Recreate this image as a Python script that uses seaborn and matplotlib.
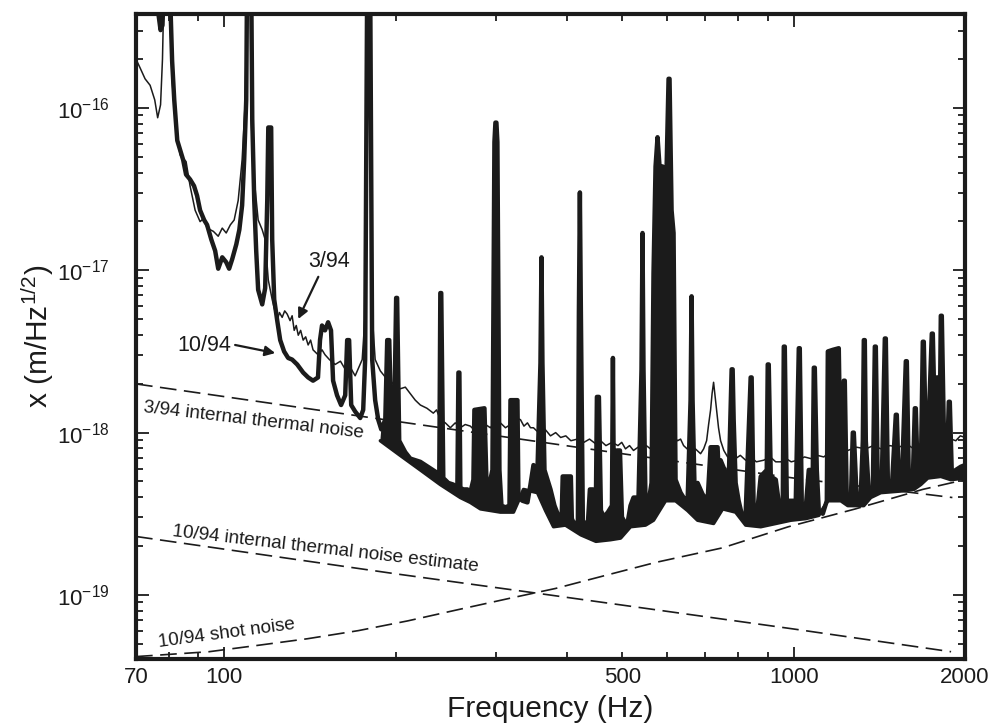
import numpy as np
import pandas as pd
import seaborn as sns
import matplotlib.pyplot as plt
from matplotlib.ticker import FixedLocator, FuncFormatter, NullFormatter

# Values: (frequency in Hz, log10 of x in m/Hz^1/2)
# 3/94 spectrum (thin trace)
spec_0394 = [
    (70.0, -15.70), (71.1, -15.75), (72.6, -15.82), (74.1, -15.86), (75.5, -15.95),
    (76.4, -16.06), (77.3, -15.98), (77.9, -15.70), (78.5, -15.15), (79.8, -15.15),
    (81.0, -15.83), (82.3, -16.14), (83.7, -16.29), (85.7, -16.33), (87.1, -16.48),
    (88.9, -16.63), (90.7, -16.70), (92.0, -16.68), (93.3, -16.74), (95.7, -16.76),
    (97.6, -16.79), (99.2, -16.74), (100.8, -16.77), (102.5, -16.72), (104.1, -16.69),
    (105.8, -16.57), (107.5, -16.32), (108.9, -15.95), (109.7, -15.15), (111.1, -15.15),
    (111.5, -16.07), (112.9, -16.44), (114.7, -16.69), (116.6, -16.75), (118.0, -16.81),
    (119.5, -17.06), (121.4, -17.18), (123.9, -17.31), (125.0, -17.26), (126.4, -17.29),
    (127.7, -17.25), (129.0, -17.27), (130.5, -17.31), (131.6, -17.28), (132.7, -17.37),
    (133.8, -17.34), (134.9, -17.40), (136.2, -17.37), (137.6, -17.43), (139.0, -17.41),
    (140.4, -17.46), (141.8, -17.43), (143.2, -17.49), (146.1, -17.52), (148.5, -17.49),
    (150.3, -17.52), (153.0, -17.55), (156.6, -17.58), (160.0, -17.56), (163.1, -17.61),
    (166.0, -17.59), (169.8, -17.65), (174.7, -17.55), (177.5, -17.18), (178.6, -15.15),
    (180.0, -15.15), (181.2, -17.18), (184.1, -17.55), (188.0, -17.62), (192.0, -17.66),
    (195.6, -17.68), (199.5, -17.71), (203.7, -17.73), (208.0, -17.72), (212.2, -17.76),
    (216.5, -17.80), (221.0, -17.83), (227.0, -17.85), (232.9, -17.88), (236.0, -17.86),
    (239.6, -17.92), (244.5, -17.94), (249.5, -17.97), (254.5, -17.94), (259.8, -17.97),
    (265.0, -17.95), (270.5, -17.96), (276.0, -17.99), (281.8, -17.98), (287.5, -17.95),
    (293.4, -17.97), (299.4, -17.93), (305.5, -17.94), (311.8, -17.97), (318.2, -17.95),
    (324.5, -17.91), (331.3, -17.92), (336.0, -17.96), (340.8, -17.94), (345.0, -17.97),
    (349.2, -17.97), (354.0, -17.99), (359.2, -18.00), (366.0, -17.98), (374.1, -18.02),
    (382.0, -18.00), (389.8, -18.03), (398.0, -18.02), (406.2, -18.05), (417.0, -18.04),
    (428.2, -18.06), (438.0, -18.04), (449.5, -18.07), (458.0, -18.05), (468.1, -18.08),
    (480.0, -18.06), (491.4, -18.08), (499.0, -18.06), (506.6, -18.10), (515.0, -18.08),
    (523.3, -18.11), (533.0, -18.09), (542.7, -18.10), (551.0, -18.08), (560.6, -18.10),
    (572.0, -18.07), (583.8, -18.08), (596.0, -18.05), (607.9, -18.05), (617.0, -18.03),
    (625.4, -18.05), (633.0, -18.04), (640.8, -18.08), (650.0, -18.10), (659.1, -18.11),
    (672.0, -18.10), (686.4, -18.13), (695.0, -18.10), (703.3, -18.05), (709.0, -17.95),
    (714.7, -17.86), (719.0, -17.76), (723.4, -17.69), (727.5, -17.77), (732.2, -17.86),
    (738.0, -17.97), (744.2, -18.05), (754.0, -18.11), (765.7, -18.15), (778.0, -18.13),
    (790.9, -18.16), (806.0, -18.14), (823.6, -18.17), (840.0, -18.15), (860.0, -18.18),
    (886.0, -18.17), (910.0, -18.15), (930.0, -18.18), (949.3, -18.18), (970.0, -18.16),
    (990.0, -18.18), (1016.8, -18.17), (1045.0, -18.15), (1071.8, -18.16), (1100.0, -18.14),
    (1129.7, -18.15), (1157.0, -18.12), (1185.8, -18.13), (1215.0, -18.11), (1244.8, -18.11),
    (1290.0, -18.09), (1338.8, -18.10), (1380.0, -18.08), (1422.6, -18.10), (1475.0, -18.08),
    (1530.0, -18.09), (1578.0, -18.07), (1625.6, -18.10), (1665.0, -18.07), (1706.4, -18.08),
    (1745.0, -18.04), (1784.0, -18.05), (1820.0, -18.03), (1857.6, -18.06), (1890.0, -18.04),
    (1926.5, -18.05), (1962.0, -18.02), (2000.0, -18.03),
]

# 10/94 spectrum (heavy trace, with the line features)
spec_1094 = [
    (70.0, -15.15), (76.4, -15.15), (76.7, -15.43), (77.3, -15.52), (77.9, -15.49),
    (78.5, -15.15), (80.1, -15.15), (81.0, -15.71), (81.7, -15.95), (82.7, -16.20),
    (83.7, -16.26), (84.7, -16.32), (85.7, -16.41), (87.1, -16.44), (88.5, -16.48),
    (89.6, -16.54), (90.7, -16.63), (92.2, -16.69), (93.3, -16.72), (94.9, -16.81),
    (96.4, -16.88), (97.6, -16.99), (99.2, -16.92), (100.8, -16.95), (102.0, -16.99),
    (103.3, -16.93), (105.0, -16.84), (106.3, -16.75), (107.5, -16.60), (108.4, -16.32),
    (109.3, -15.95), (109.7, -15.15), (111.5, -15.15), (112.0, -16.07), (112.9, -16.57),
    (113.8, -16.88), (114.7, -17.12), (116.6, -17.21), (118.0, -17.11), (119.0, -16.57),
    (119.5, -16.12), (120.9, -16.12), (121.4, -16.81), (122.4, -17.18), (123.9, -17.31),
    (125.4, -17.43), (127.4, -17.50), (129.5, -17.54), (131.6, -17.55), (134.3, -17.58),
    (137.6, -17.63), (140.4, -17.66), (143.2, -17.68), (146.1, -17.66), (147.3, -17.43),
    (148.5, -17.34), (150.3, -17.37), (152.2, -17.32), (154.0, -17.37), (155.3, -17.68),
    (157.8, -17.77), (160.4, -17.83), (163.1, -17.77), (164.4, -17.43), (165.7, -17.43),
    (167.1, -17.83), (169.8, -17.87), (173.3, -17.91), (175.4, -17.86), (176.8, -17.55),
    (178.3, -15.15), (180.4, -15.15), (181.9, -17.55), (184.1, -17.80), (186.4, -17.92),
    (188.7, -17.98), (191.8, -17.92), (193.3, -17.43), (194.9, -17.43), (196.4, -17.92),
    (198.8, -17.95), (200.4, -17.17), (201.2, -17.17), (202.9, -18.05), (207.9, -18.12),
    (212.2, -18.16), (216.5, -18.17), (221.0, -18.18), (225.5, -18.20), (230.1, -18.22),
    (234.8, -18.24), (238.6, -18.26), (239.6, -17.14), (240.5, -17.14), (242.5, -18.28),
    (247.5, -18.31), (252.5, -18.32), (256.7, -18.34), (257.8, -17.63), (258.8, -17.63),
    (259.8, -18.34), (263.0, -18.35), (267.3, -18.35), (270.5, -18.37), (273.9, -18.29),
    (275.0, -17.86), (286.4, -17.85), (288.7, -18.29), (293.4, -18.29), (295.8, -18.23),
    (298.2, -16.21), (299.4, -16.09), (300.6, -16.09), (301.8, -16.21), (304.3, -18.23),
    (306.8, -18.45), (311.8, -18.46), (316.9, -18.45), (318.2, -17.80), (327.3, -17.80),
    (328.6, -18.40), (334.0, -18.42), (340.8, -18.43), (345.0, -18.32), (349.2, -18.20),
    (354.9, -18.23), (359.2, -17.57), (360.7, -16.92), (362.1, -17.57), (365.1, -18.23),
    (369.6, -18.29), (374.1, -18.35), (380.2, -18.45), (385.0, -18.50), (391.4, -18.52),
    (393.0, -18.27), (406.2, -18.27), (407.8, -18.53), (411.2, -18.56), (417.9, -18.55),
    (419.6, -17.26), (421.3, -16.52), (423.0, -17.26), (426.4, -18.55), (435.1, -18.56),
    (438.7, -18.35), (444.0, -18.35), (449.5, -18.42), (451.3, -17.78), (455.0, -17.78),
    (458.7, -18.48), (464.3, -18.52), (471.9, -18.49), (479.6, -18.45), (481.5, -17.54),
    (483.5, -18.45), (489.4, -18.11), (495.4, -18.11), (499.4, -18.52), (504.6, -18.55),
    (510.7, -18.56), (517.0, -18.45), (523.3, -18.40), (534.0, -18.40), (540.5, -17.61),
    (542.7, -16.77), (544.9, -17.61), (549.3, -18.42), (556.1, -18.43), (562.9, -18.31),
    (567.4, -17.02), (572.1, -16.36), (576.7, -16.18), (581.4, -16.36), (588.5, -16.36),
    (593.3, -16.63), (598.1, -16.38), (603.0, -15.82), (605.4, -15.82), (610.4, -16.63),
    (615.3, -16.77), (620.3, -18.29), (633.0, -18.37), (640.8, -18.40), (651.2, -18.43),
    (659.1, -17.80), (661.8, -17.16), (664.5, -17.80), (669.9, -18.35), (678.1, -18.31),
    (692.0, -18.38), (706.1, -18.42), (714.7, -18.09), (735.2, -18.09), (738.2, -18.23),
    (744.2, -18.17), (756.4, -18.23), (768.8, -18.32), (778.2, -17.61), (781.4, -17.61),
    (784.6, -17.92), (790.9, -18.31), (800.6, -18.42), (810.4, -18.50), (823.6, -18.50),
    (840.4, -17.66), (843.8, -17.66), (850.7, -18.48), (864.6, -18.46), (875.3, -18.27),
    (896.9, -18.23), (900.5, -17.58), (904.2, -17.58), (911.6, -18.27), (930.3, -18.29),
    (941.6, -18.43), (957.0, -18.43), (960.9, -17.47), (964.8, -17.47), (972.7, -18.42),
    (988.5, -18.42), (1008.6, -18.42), (1021.0, -17.48), (1025.1, -17.48), (1033.4, -18.45),
    (1050.3, -18.46), (1063.1, -18.23), (1080.5, -18.23), (1084.9, -17.60), (1089.3, -17.60),
    (1098.1, -18.23), (1107.0, -18.48), (1125.1, -18.50), (1143.5, -18.42), (1148.2, -17.50),
    (1171.5, -17.49), (1200.2, -17.48), (1210.0, -18.29), (1224.8, -17.68), (1229.7, -17.68),
    (1239.7, -18.43), (1260.0, -18.43), (1270.2, -18.00), (1275.4, -18.00), (1290.9, -18.42),
    (1312.0, -18.38), (1322.7, -18.05), (1328.0, -17.43), (1333.4, -17.43), (1338.8, -18.05),
    (1355.1, -18.37), (1377.3, -18.35), (1388.5, -17.47), (1394.1, -17.47), (1405.5, -18.35),
    (1428.4, -18.29), (1445.8, -17.42), (1451.6, -17.42), (1463.4, -18.29), (1487.3, -18.34),
    (1511.5, -17.89), (1517.6, -17.89), (1530.0, -18.32), (1548.7, -18.31), (1573.9, -17.56),
    (1580.3, -17.56), (1593.1, -18.29), (1619.0, -18.29), (1632.2, -17.85), (1638.8, -17.85),
    (1652.1, -18.29), (1672.2, -18.26), (1685.8, -17.44), (1692.6, -17.44), (1706.4, -18.05),
    (1727.2, -17.92), (1748.3, -17.39), (1755.4, -17.39), (1769.6, -17.92), (1784.0, -17.66),
    (1791.3, -17.66), (1805.8, -17.92), (1813.1, -17.28), (1820.5, -17.28), (1835.3, -17.98),
    (1857.6, -18.23), (1872.7, -17.81), (1880.3, -17.81), (1895.5, -18.25), (1926.5, -18.23),
    (1966.2, -18.21), (2000.0, -18.20),
]

# lower edge of the 10/94 noise band
floor_1094 = [
    (188.0, -18.05), (203.7, -18.14), (221.0, -18.23), (239.6, -18.32), (259.8, -18.40),
    (270.5, -18.43), (281.8, -18.47), (293.4, -18.48), (305.5, -18.49), (322.1, -18.49),
    (335.4, -18.35), (354.9, -18.37), (366.6, -18.48), (378.7, -18.58), (397.4, -18.57),
    (423.0, -18.63), (449.5, -18.67), (476.9, -18.66), (496.6, -18.65), (517.0, -18.58),
    (549.3, -18.57), (567.4, -18.54), (595.7, -18.42), (620.3, -18.42), (651.2, -18.48),
    (678.1, -18.54), (723.4, -18.56), (750.4, -18.47), (790.9, -18.49), (823.6, -18.57),
    (875.3, -18.58), (930.3, -18.56), (988.5, -18.54), (1050.3, -18.53), (1107.0, -18.51),
    (1148.2, -18.42), (1210.0, -18.42), (1244.8, -18.45), (1328.0, -18.45), (1365.6, -18.40),
    (1422.6, -18.37), (1542.0, -18.36), (1625.6, -18.35), (1672.2, -18.32), (1720.0, -18.28),
    (1813.1, -18.27), (1888.0, -18.29), (2000.0, -18.28),
]

# noise estimates (dashed)
thermal_0394 = [(70, -17.70), (200, -17.93), (500, -18.13), (1000, -18.28), (1900, -18.40)]
thermal_1094 = [(70, -18.64), (200, -18.87), (355, -18.99), (1000, -19.21), (1890, -19.35)]
shot_1094 = [
    (70, -19.38), (94, -19.35), (115, -19.31), (140, -19.27), (172, -19.22), (210, -19.16),
    (258, -19.09), (318, -19.02), (382, -18.96), (467, -18.88), (572, -18.80), (750, -18.71),
    (979, -18.58), (1284, -18.47), (1685, -18.35), (2000, -18.29),
]

x_labels = {70: "70", 100: "100", 500: "500", 1000: "1000", 2000: "2000"}
y_decades = [-19, -18, -17, -16]


def to_frame(pairs):
    arr = np.array(pairs, dtype=float)
    return pd.DataFrame({"freq": arr[:, 0], "x": 10.0 ** arr[:, 1]})


sns.set_theme(style="ticks")
plt.rcParams["font.family"] = ["Liberation Sans", "DejaVu Sans"]
plt.rcParams["mathtext.fontset"] = "custom"
plt.rcParams["mathtext.rm"] = "Liberation Sans"
plt.rcParams["mathtext.it"] = "Liberation Sans:italic"
plt.rcParams["mathtext.bf"] = "Liberation Sans:bold"

ink = "#1b1b1b"
fig = plt.figure(figsize=(9.98, 7.27), dpi=100)
ax = fig.add_axes([0.1363, 0.0935, 0.8307, 0.8872])
ax.set_xscale("log")
ax.set_yscale("log")

dash = (0, (10, 4.5))
for pairs in (thermal_0394, thermal_1094, shot_1094):
    sns.lineplot(data=to_frame(pairs), x="freq", y="x", sort=False, estimator=None,
                 color=ink, lw=1.2, linestyle=dash, ax=ax, zorder=2)

# 3/94 thin trace
sns.lineplot(data=to_frame(spec_0394), x="freq", y="x", sort=False, estimator=None,
             color=ink, lw=1.1, ax=ax, zorder=3)

# 10/94 heavy trace, with its noise band filled down to the lower edge
top = to_frame(spec_1094)
low = to_frame(floor_1094)
band_top = top[top["freq"] >= low["freq"].iloc[0]]
ax.fill(np.r_[band_top["freq"].values, low["freq"].values[::-1]],
        np.r_[band_top["x"].values, low["x"].values[::-1]],
        color=ink, lw=0, zorder=4)
sns.lineplot(data=low, x="freq", y="x", sort=False, estimator=None,
             color=ink, lw=2.5, ax=ax, zorder=4)
sns.lineplot(data=top, x="freq", y="x", sort=False, estimator=None,
             color=ink, lw=3.2, ax=ax, zorder=5)

ax.set_xlim(70, 2000)
ax.set_ylim(10 ** -19.395, 10 ** -15.421)

# labels on the curves
ax.text(140.5, 10 ** -16.98, "3/94", fontsize=15.5, color=ink, ha="left", va="baseline")
ax.text(82.7, 10 ** -17.50, "10/94", fontsize=15.5, color=ink, ha="left", va="baseline")
arrow = dict(arrowstyle="-|>", color=ink, lw=1.6, mutation_scale=15, shrinkA=0, shrinkB=0)
ax.annotate("", xy=(134.9, 10 ** -17.30), xytext=(146.3, 10 ** -17.04), arrowprops=arrow, zorder=6)
ax.annotate("", xy=(122.9, 10 ** -17.51), xytext=(104.5, 10 ** -17.46), arrowprops=arrow, zorder=6)

ax.text(72.0, 10 ** -17.873, "3/94 internal thermal noise", fontsize=13.6, color=ink,
        rotation=-6.7, rotation_mode="anchor", ha="left", va="baseline")
ax.text(81.0, 10 ** -18.64, "10/94 internal thermal noise estimate", fontsize=13.6, color=ink,
        rotation=-6.6, rotation_mode="anchor", ha="left", va="baseline")
ax.text(76.7, 10 ** -19.32, "10/94 shot noise", fontsize=13.6, color=ink,
        rotation=7.6, rotation_mode="anchor", ha="left", va="baseline")

# ticks
ax.xaxis.set_major_locator(FixedLocator([100, 1000]))
ax.xaxis.set_minor_locator(FixedLocator([70, 80, 90, 200, 300, 400, 500, 600, 700, 800, 900, 2000]))
ax.xaxis.set_major_formatter(FuncFormatter(lambda v, _: x_labels.get(int(round(v)), "")))
ax.xaxis.set_minor_formatter(FuncFormatter(lambda v, _: x_labels.get(int(round(v)), "")))
ax.yaxis.set_major_locator(FixedLocator([10.0 ** d for d in y_decades]))
ax.yaxis.set_minor_locator(FixedLocator([k * 10.0 ** d for d in [-20] + y_decades
                                          for k in range(2, 10)
                                          if 10 ** -19.395 < k * 10.0 ** d < 10 ** -15.421]))
ax.yaxis.set_major_formatter(FuncFormatter(lambda v, _: r"$10^{%d}$" % round(np.log10(v))))
ax.yaxis.set_minor_formatter(NullFormatter())

ax.tick_params(which="both", direction="in", top=True, right=True, color=ink,
               width=1.3, labelcolor=ink)
ax.tick_params(axis="x", which="both", labelsize=16, pad=6)
ax.tick_params(axis="y", which="both", labelsize=16, pad=19)
ax.tick_params(which="major", length=9)
ax.tick_params(which="minor", length=5)
for side in ax.spines.values():
    side.set_linewidth(3)
    side.set_color(ink)

ax.set_xlabel("Frequency (Hz)", fontsize=21.5, color=ink, labelpad=5)
ax.set_ylabel(r"x (m/Hz$^{1/2}$)", fontsize=21.5, color=ink, labelpad=1)

fig.savefig("out.png", dpi=100, facecolor="white")
